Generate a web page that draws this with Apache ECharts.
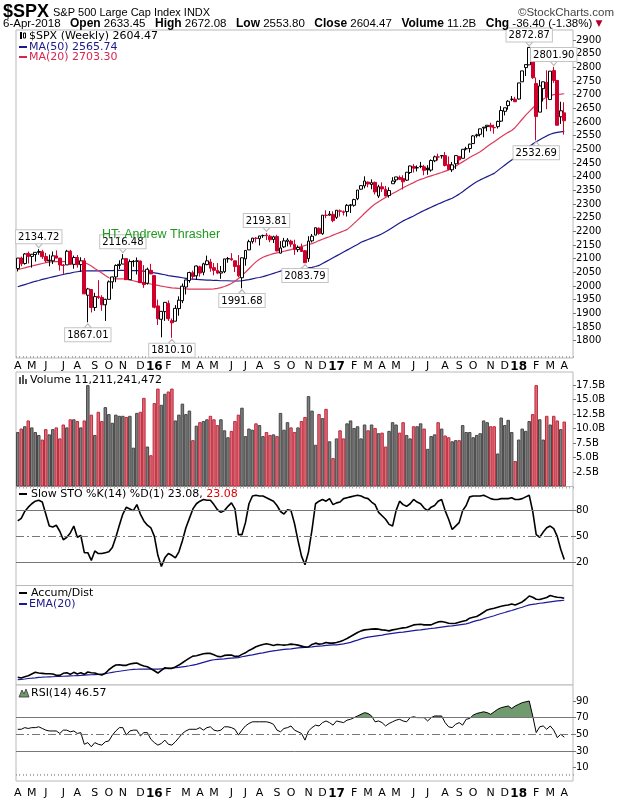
<!DOCTYPE html>
<html><head><meta charset="utf-8">
<script src="https://cdn.jsdelivr.net/npm/echarts@6/dist/echarts.min.js"></script>
<style>html,body{margin:0;padding:0;background:#fff}#c{width:620px;height:800px}</style>
</head><body><div id="c"></div>
<script>
const dates = ['2015-04-10','2015-04-17','2015-04-24','2015-05-01','2015-05-08','2015-05-15','2015-05-22','2015-05-29','2015-06-05','2015-06-12','2015-06-19','2015-06-26','2015-07-03','2015-07-10','2015-07-17','2015-07-24','2015-07-31','2015-08-07','2015-08-14','2015-08-21','2015-08-28','2015-09-04','2015-09-11','2015-09-18','2015-09-25','2015-10-02','2015-10-09','2015-10-16','2015-10-23','2015-10-30','2015-11-06','2015-11-13','2015-11-20','2015-11-27','2015-12-04','2015-12-11','2015-12-18','2015-12-25',
'2016-01-01','2016-01-08','2016-01-15','2016-01-22','2016-01-29','2016-02-05','2016-02-12','2016-02-19','2016-02-26','2016-03-04','2016-03-11','2016-03-18','2016-03-25','2016-04-01','2016-04-08','2016-04-15','2016-04-22','2016-04-29','2016-05-06','2016-05-13','2016-05-20','2016-05-27','2016-06-03','2016-06-10','2016-06-17','2016-06-24','2016-07-01','2016-07-08','2016-07-15','2016-07-22','2016-07-29','2016-08-05','2016-08-12','2016-08-19','2016-08-26','2016-09-02','2016-09-09','2016-09-16','2016-09-23','2016-09-30','2016-10-07','2016-10-14','2016-10-21','2016-10-28','2016-11-04','2016-11-11','2016-11-18','2016-11-25','2016-12-02','2016-12-09','2016-12-16','2016-12-23','2016-12-30',
'2017-01-06','2017-01-13','2017-01-20','2017-01-27','2017-02-03','2017-02-10','2017-02-17','2017-02-24','2017-03-03','2017-03-10','2017-03-17','2017-03-24','2017-03-31','2017-04-07','2017-04-14','2017-04-21','2017-04-28','2017-05-05','2017-05-12','2017-05-19','2017-05-26','2017-06-02','2017-06-09','2017-06-16','2017-06-23','2017-06-30','2017-07-07','2017-07-14','2017-07-21','2017-07-28','2017-08-04','2017-08-11','2017-08-18','2017-08-25','2017-09-01','2017-09-08','2017-09-15','2017-09-22','2017-09-29','2017-10-06','2017-10-13','2017-10-20','2017-10-27','2017-11-03','2017-11-10','2017-11-17','2017-11-24','2017-12-01','2017-12-08','2017-12-15','2017-12-22','2017-12-29',
'2018-01-05','2018-01-12','2018-01-19','2018-01-26','2018-02-02','2018-02-09','2018-02-16','2018-02-23','2018-03-02','2018-03-09','2018-03-16','2018-03-23','2018-03-30','2018-04-06'];
const padDates = ['2018-04-13','2018-04-20'];

const open = [2064,2102,2082,2119,2108,2115,2123,2125,2108,2092,2092,2110,2102,2075,2077,2127,2079,2104,2078,2092,1966,1987,1921,1961,1958,1931,1951,2015,2033,2075,2080,2100,2023,2089,2090,2091,2013,2010,2057,2038,1927,1878,1906,1936,1873,1871,1917,1946,1996,2020,2048,2037,2070,2050,2078,2088,2067,2057,2047,2052,2100,2100,2092,2075,2030,2099,2132,2162,2175,2173,2184,2186,2182,2170,2181,2120,2143,2163,2164,2152,2133,2142,2129,2100,2165,2186,2211,2191,2259,2259,2262,2251,2273,2269,2272,2294,2295,2319,2354,2366,2380,2371,2379,2329,2363,2354,2331,2374,2388,2397,2393,2387,2415,2437,2432,2437,2436,2431,2424,2458,2472,2477,2477,2444,2425,2447,2474,2467,2502,2503,2521,2550,2555,2578,2583,2588,2580,2583,2603,2639,2660,2683,2683,2684,2747,2799,2809,2867,2741,2636,2722,2745,2682,2788,2752,2619,2633.45];
const high = [2102,2107,2120,2126,2117,2123,2134.72,2132,2121,2115,2126,2130,2102,2080,2132,2132,2111,2113,2105,2102,1993,1987,1975,2021,1966,1953,2020,2034,2079,2094,2116.48,2100,2097,2095,2104,2093,2076,2067,2081,2038,1950,1908,1940,1947,1881,1930,1962,2009,2022,2052,2056,2075,2074,2085,2111,2099,2084,2084,2073,2099,2106,2120,2092,2113,2104,2131,2169,2176,2178,2183,2188,2193.81,2187,2184,2187,2164,2176,2175,2169,2169,2148,2155,2131,2182,2190,2214,2214,2259,2277,2274,2273,2277,2280,2276,2300,2300,2319,2351,2368,2401,2382,2390,2382,2370,2379,2366,2361,2398,2399,2404,2405,2416,2440,2446,2441,2454,2443,2442,2463,2477,2484,2478,2490,2474,2454,2477,2474,2500,2509,2520,2552,2557,2575,2582,2588,2597,2590,2605,2658,2652,2680,2695,2692,2743,2787,2810,2872.87,2870,2763,2754,2748,2789,2786,2801.90,2753,2674,2672.08];
const low = [2053,2072,2078,2082,2067,2089,2114,2099,2085,2072,2080,2101,2056,2044,2077,2079,2063,2067,2052,1970,1867.01,1903,1909,1952,1909,1872,1951,1990,2014,2062,2080,2022,2022,2070,2042,2012,1993,2005,2043,1918,1857,1812,1872,1872,1810.10,1871,1891,1937,1969,2012,2023,2022,2034,2039,2076,2052,2039,2043,2026,2047,2085,2092,2051,2032,1991.68,2074,2131,2155,2159,2148,2176,2168,2160,2157,2127,2119,2139,2145,2142,2114,2124,2127,2083.79,2088,2159,2186,2187,2187,2248,2257,2233,2245,2254,2258,2254,2267,2290,2314,2352,2357,2361,2354,2335,2322,2344,2328,2323,2374,2379,2389,2353,2384,2410,2415,2419,2431,2405,2407,2418,2453,2459,2466,2437,2425,2417,2428,2446,2467,2496,2488,2520,2543,2547,2544,2566,2566,2557,2576,2600,2624,2645,2676,2673,2682,2747,2768,2808,2758,2532.69,2636,2675,2647,2682,2743,2588,2593,2553.80];
const close = [2102,2081,2117,2108,2116,2123,2126,2107,2092,2094,2110,2102,2076.8,2076.6,2127,2079,2104,2078,2092,1971,1989,1921,1961,1958,1931,1951,2015,2033,2075,2079,2099,2023,2089,2090,2092,2012,2005,2061,2044,1922,1880,1907,1940,1880,1865,1918,1948,1999,2022,2049,2035,2073,2047,2081,2092,2065,2057,2047,2052,2099,2099.1,2096,2071,2037,2103,2130,2162,2175,2174,2183,2184.1,2183.9,2169,2180,2128,2139,2165,2168,2153,2133,2141,2126,2085,2164,2182,2213,2192,2259,2258,2263,2239,2277,2275,2272,2295,2297,2316,2351,2367,2384,2373,2378,2344,2363,2355,2329,2349,2384,2399,2390,2381,2416,2439,2431,2433,2438,2423,2425,2459,2472.5,2472.1,2476,2441,2426,2443,2477,2461,2500,2502,2519,2549,2553,2575,2581,2588,2582,2579,2602,2642,2652,2676,2683,2674,2743,2787,2810,2872.87,2762,2620,2732,2747,2691,2786,2752,2588,2641,2604.47];
const volume = [9.4,10.0,10.4,11.4,10.2,9.4,8.9,8.1,9.9,9.0,9.9,10.2,8.3,10.7,10.2,11.6,11.6,11.3,10.2,11.4,17.5,12.4,8.9,12.9,11.3,13.7,12.5,11.0,12.4,12.2,12.2,12.0,12.2,6.7,12.7,12.9,15.3,6.9,5.4,14.4,16.9,14.1,16.0,16.4,16.9,11.4,12.4,14.3,12.5,13.1,8.0,10.5,11.1,11.3,11.6,12.2,11.6,10.6,11.6,9.7,8.5,9.6,11.3,12.4,13.6,8.7,10.0,9.8,10.9,10.6,8.7,9.4,8.9,9.0,8.7,12.7,9.8,11.1,10.2,9.4,10.2,11.3,12.0,15.6,13.1,7.2,12.5,11.8,13.4,7.8,4.9,8.3,9.7,8.3,10.9,11.4,10.1,10.4,8.3,10.7,9.7,10.7,10.1,9.2,9.3,6.9,9.6,11.1,10.7,9.3,11.1,8.9,8.3,10.4,10.4,10.9,10.0,6.5,8.7,9.0,11.1,10.0,8.8,8.5,7.8,8.0,8.0,10.6,9.4,9.4,8.5,8.9,9.2,11.4,11.1,10.4,10.4,5.7,11.9,10.6,11.5,9.4,4.4,8.1,10.0,9.6,11.3,12.5,17.5,11.6,8.1,12.2,10.7,12.2,11.4,9.9,11.21];
const ma50 = [1997,2001,2005,2009,2013,2017,2020,2024,2027,2030,2033,2036,2039,2042,2045,2047,2050,2052,2054,2055,2055,2055,2055,2055,2055,2056,2056,2056,2057,2057,2057,2057,2056,2056,2056,2055,2054,2052,2050,2048,2046,2043,2041,2038,2036,2034,2032,2030,2028,2026,2025,2024,2023,2022,2021,2021,2020,2020,2019,2019,2019,2018,2018,2018,2019,2021,2023,2026,2029,2031,2034,2038,2042,2046,2050,2054,2058,2059,2060,2061,2062,2064,2066,2067,2068,2071,2075,2082,2089,2096,2103,2110,2117,2124,2131,2138,2145,2152,2160,2165,2170,2175,2180,2185,2191,2198,2206,2214,2222,2230,2238,2244,2250,2256,2263,2270,2276,2282,2288,2294,2300,2305,2311,2316,2321,2328,2336,2345,2355,2364,2373,2381,2388,2394,2400,2406,2412,2422,2432,2442,2452,2461,2470,2480,2490,2500,2510,2519,2528,2535,2542,2549,2555,2559,2562,2564,2565.74];
const ma20 = [2060,2063,2066,2070,2073,2076,2079,2082,2085,2087,2089,2089,2089,2089,2090,2090,2090,2090,2089,2086,2080,2073,2064,2056,2047,2038,2030,2027,2026,2026,2026,2025,2022,2019,2016,2013,2011,2009,2007,2005,2002,1999,1997,1995,1993,1992,1991,1990,1989,1988,1988,1988,1988,1988,1988,1988,1989,1991,1994,1998,2003,2009,2017,2027,2038,2050,2063,2076,2088,2098,2105,2110,2114,2118,2121,2124,2127,2130,2133,2137,2141,2144,2148,2152,2155,2160,2166,2171,2176,2180,2186,2191,2196,2201,2206,2217,2229,2241,2253,2266,2278,2290,2300,2308,2316,2324,2331,2338,2345,2352,2359,2366,2372,2378,2385,2390,2394,2399,2403,2407,2411,2415,2420,2424,2431,2438,2446,2454,2462,2470,2477,2484,2491,2500,2510,2519,2528,2537,2546,2554,2562,2569,2580,2595,2610,2625,2638,2651,2663,2674,2683,2691,2696,2700,2701,2702,2703.30];
const sto = [68,71,79,84,88,91,92,90,76,62,61,63,56,46,49,54,62,49,51,31,31,22,33,30,30,31,32,37,49,63,76,84,82,80,87,76,68,63,60,50,28,15,25,30,28,25,32,45,60,71,82,88,91,93,92,92,87,81,78,80,85,89,82,52,52,66,88,97,98,97,97,95,93,91,86,79,76,81,80,65,45,27,17,32,58,88,91,93,91,94,87,89,90,94,95,96,97,98,97,95,94,90,87,78,74,70,64,62,80,91,87,85,88,93,90,88,83,80,84,86,91,93,80,70,58,62,66,80,86,96,97,97,97,98,96,94,93,93,94,94,94,95,93,93,94,96,98,79,52,49,55,60,62,59,50,35,23.08];
const rsi = [56,56,58,57,58,58,59,57,55,54,54,54,51,55,55,53,54,51,52,38,40,35,40,38,37,41,42,49,54,58,58,49,54,55,55,48,52,52,44,40,37,39,43,38,37,41,46,51,54,56,56,56,58,55,58,59,55,54,55,59,59,58,56,49,55,60,63,65,65,65,65,65,64,62,55,53,57,58,60,55,53,51,43,54,58,61,60,64,66,64,61,66,65,64,67,68,70,72,74,76,75,72,65,66,64,60,63,65,67,68,66,65,70,71,70,70,70,66,70,72,72,72,64,59,58,62,64,61,68,69,73,75,76,77,76,74,77,80,82,83,84,81,84,86,88,89,90,72,52,59,60,56,60,55,46,50,46.57];
const accDist = [7.7,7,8.3,9.3,11,12.7,12,11.7,11.3,11.3,11,9.7,9.7,11.7,12.3,10.7,12.7,11,12.3,10.7,13,12.3,12,10.7,10,11.7,15.3,18,20,20.3,19.7,19.7,21,21.7,22,20.3,19,18.3,16.3,14.3,12,14.7,17.3,16.7,16.7,18,20,22.3,24.7,27,29,29.3,30.3,31.3,31.7,31.7,30.3,28.7,28.3,29.7,30,30,28.7,28.7,30.7,32.3,34.7,36.3,38.3,39.7,40.7,41.3,40.7,39.7,40.7,40.3,40,40.3,41,40.7,40,39,38,38.3,40.7,42,41,41.3,42.7,42,42,42.7,43.7,45,46.7,48.7,50.7,52.7,54.3,55.3,55.7,56,56.3,56,55.3,55,54.3,55.3,56,56.7,57.3,57.7,59,60.3,60.7,61,60.3,60.3,60.3,62,63.3,63.7,63,62,61.7,62,63,64,64.7,67,68,68.7,70.7,73,75.3,76.3,77,78,79,79.7,80.3,81.3,80.3,81.7,83.3,86,89.3,88,86,85.7,86.7,87.7,89.7,88.7,88,87.7,87];
const accDistEma = [5.3,5.7,6,6.5,6.8,7.2,7.7,7.8,8,8.2,8.3,8.5,8.7,8.8,9,9.2,9.3,9.5,9.7,10,10.2,10.3,10.5,10.7,11,11.3,12,12.7,13.3,13.8,14.3,14.8,15.3,15.7,15.8,16,16,16,16,16,16,16.2,16.3,16.7,16.8,17.3,17.7,18.2,18.7,19.3,20,20.7,21.7,22.7,23.7,24.7,25.3,25.7,26,26.3,26.7,27,27.3,27.5,28.3,29,29.7,30.3,31,31.7,32.3,33,33.7,34.3,34.7,35.2,35.7,36,36.3,36.8,37.2,37.5,37.8,38,38.3,38.7,39,39.3,39.7,40,40.2,40.3,40.8,41.3,42,42.8,44,45,46.2,47.2,48,48.5,49,49.5,50,50.7,51.2,51.7,52.2,52.7,53,53.5,54,54.5,55,55.3,55.8,56.2,56.7,57,57.5,58,58.5,59,59.3,59.8,60.3,60.8,61.3,62.3,63.5,64.5,65.3,66.5,67.5,68.5,69.5,70.7,71.7,72.7,73.8,74.7,75.8,77,78,79.2,80.3,80.8,81.3,82,82.3,82.8,83.3,83.8,84.3,84.7,85];

const priceTicks = [1800,1850,1900,1950,2000,2050,2100,2150,2200,2250,2300,2350,2400,2450,2500,2550,2600,2650,2700,2750,2800,2850,2900];
const volTicks = [2.5,5,7.5,10,12.5,15,17.5];
const stoTicks = [20,50,80];
const rsiTicks = [10,30,50,70,90];
const rsiOverbought = 70;
const monthLetters = ['J','F','M','A','M','J','J','A','S','O','N','D'];
const calloutHighIdx = [6,30,71,146,153];
const calloutLowIdx = [20,44,64,82,148];

const RED = '#d0002d', BLACK = '#000000';
const FONT = 'DejaVu Sans';
const cats = dates.concat(padDates);

const candleData = dates.map((d,i)=>{
  const up = i===0 || close[i] >= close[i-1];
  const col = up ? BLACK : RED;
  const fill = close[i] >= open[i] ? '#ffffff' : col;
  return {value:[open[i],close[i],low[i],high[i]], itemStyle:{color:fill,color0:fill,borderColor:col,borderColor0:col,borderWidth:1}};
});
const volData = volume.map((v,i)=>{
  const up = i===0 || close[i] >= close[i-1];
  return {value:v, itemStyle: up ? {color:'#7f7f7f',borderColor:'#474747'} : {color:'#d8707a',borderColor:'#c3283c'}};
});

function isLabel(v){ if(padDates.indexOf(v)>=0) return false; const d = +v.slice(8,10); return d>=5 && d<=11; }
function fmtLabel(v){ const m = +v.slice(5,7); return m===1 ? '{y|'+v.slice(2,4)+'}' : monthLetters[m-1]; }

const L = 16, W = 557;
const grids = [
  {left:L, top:30, width:W, height:328},
  {left:L, top:372, width:W, height:114.5},
  {left:L, top:486.5, width:W, height:99},
  {left:L, top:585.5, width:W, height:99.5},
  {left:L, top:685, width:W, height:98}
].map(g=>Object.assign({show:true, borderColor:'#b9b9b9', borderWidth:1, backgroundColor:'#fff'}, g));

function xAx(gi, extra){
  return Object.assign({type:'category', gridIndex:gi, data:cats, boundaryGap:true,
    axisLine:{show:false}, axisTick:{show:false}, axisLabel:{show:false}, splitLine:{show:false}}, extra||{});
}
const labelCfg = {show:true, interval:(i,v)=>isLabel(v), formatter:fmtLabel, fontSize:11, fontFamily:FONT, color:'#000',
  rich:{y:{fontWeight:'bold', fontSize:12, fontFamily:FONT, color:'#000'}}};
const tickCfg = {show:true, interval:0, inside:true, length:2, lineStyle:{color:'#aaaaaa'}};

function yAx(gi, min, max, ticks, fmt){
  return {type:'value', gridIndex:gi, position:'right', min:min, max:max, splitLine:{show:false}, axisLine:{show:false},
    axisTick:{show:!!ticks, customValues:ticks||[], length:3, lineStyle:{color:'#777'}},
    axisLabel:{show:!!ticks, customValues:ticks||[], fontSize:10, fontFamily:FONT, color:'#000', margin:3, formatter:fmt||(v=>String(v))}};
}

const hl = (y, dash)=>({yAxis:y, lineStyle:{color:'#777', width:1, type: dash ? [8,3,2,3] : 'solid'}});

function txt(x,y,text,font,fill,align,rich){
  const s = {text:text, x:x, y:y, font:font, fill:fill||'#000', align:align||'left', verticalAlign:'middle'};
  if(rich) s.rich = rich;
  return {type:'text', silent:true, z:100, style:s};
}
function seg(x1,y1,x2,y2,col,w){ return {type:'line', silent:true, z:100, shape:{x1,y1,x2,y2}, style:{stroke:col, lineWidth:w||2}}; }

const f11 = '11px "'+FONT+'"';
const graphics = [
  txt(3,12,'$SPX','bold 18px "Liberation Sans"','#000'),
  txt(53,13,'S&P 500 Large Cap Index INDX','11px "Liberation Sans"','#000'),
  txt(614,13,'\u00A9StockCharts.com','11.5px "Liberation Sans"','#444','right'),
  txt(3,24,'6-Apr-2018','11.5px "Liberation Sans"','#000'),
  txt(70,24,'{b|Open} 2633.45   {b|High} 2672.08   {b|Low} 2553.80   {b|Close} 2604.47   {b|Volume} 11.2B   {b|Chg} -36.40 (-1.38%) {r|\u25BC}','11.5px "Liberation Sans"','#000','left',
     {b:{font:'bold 12px "Liberation Sans"', fill:'#000'}, r:{font:'9px "DejaVu Sans"', fill:'#b0002a'}}),
  {type:'rect', silent:true, z:100, shape:{x:20,y:32,width:2,height:7}, style:{fill:'#000'}},
  {type:'rect', silent:true, z:100, shape:{x:23.5,y:33,width:2,height:5}, style:{fill:'#fff', stroke:'#000', lineWidth:1}},
  txt(29,36,'$SPX (Weekly) 2604.47',f11,'#000'),
  seg(19,47,27,47,'#1a1a8c'), txt(29,47,'MA(50) 2565.74',f11,'#1a1a8c'),
  seg(19,57,27,57,'#d6284f'), txt(29,57,'MA(20) 2703.30',f11,'#d6284f'),
  txt(102,235,'HT: Andrew Thrasher','12.5px "Liberation Sans"','#1f9a1f'),
  {type:'rect', silent:true, z:100, shape:{x:19,y:377,width:2,height:7}, style:{fill:'#555'}},
  {type:'rect', silent:true, z:100, shape:{x:22,y:375,width:2,height:9}, style:{fill:'#555'}},
  {type:'rect', silent:true, z:100, shape:{x:25,y:379,width:2,height:5}, style:{fill:'#555'}},
  txt(30,380,'Volume 11,211,241,472',f11,'#000'),
  seg(19,494,27,494,'#000'),
  txt(31,494,'Slow STO %K(14) %D(1) 23.08, {r|23.08}',f11,'#000','left',{r:{font:f11, fill:'#e00000'}}),
  seg(19,593,27,593,'#000'), txt(31,593,'Accum/Dist',f11,'#000'),
  seg(19,604,27,604,'#1a1a8c'), txt(29,604,'EMA(20)',f11,'#1a1a8c'),
  {type:'polygon', silent:true, z:100, shape:{points:[[19,697],[22,690],[24,694],[26,689],[29,697]]}, style:{fill:'#6f9b6f', stroke:'#333', lineWidth:0.8}},
  txt(31,693,'RSI(14) 46.57',f11,'#000')
];

const downTri = 'path://M0,0L8,0L4,5Z';
const markPts = calloutHighIdx.map(i=>({coord:[dates[i],high[i]], value:high[i], symbol:downTri, symbolOffset:[0,-3.5], label:{position:'top', distance:0}}))
  .concat(calloutLowIdx.map(i=>({coord:[dates[i],low[i]], value:low[i], symbol:'triangle', symbolOffset:[0,3.5], label:{position:'bottom', distance:0}})));

const option = {
  animation:false,
  backgroundColor:'#ffffff',
  grid: grids,
  xAxis: [
    xAx(0,{axisLabel:Object.assign({},labelCfg,{margin:3}), axisTick:tickCfg}),
    xAx(1,{position:'top', axisTick:tickCfg}),
    xAx(2), xAx(3),
    xAx(4,{axisLabel:Object.assign({},labelCfg,{margin:7}), axisTick:tickCfg})
  ],
  yAxis: [
    yAx(0,1736.3,2936.6,priceTicks),
    yAx(1,0,19.76,volTicks,v=>v.toFixed(1)+'B'),
    yAx(2,-7.2,108.1,stoTicks),
    yAx(3,0,99.8,null),
    yAx(4,-6.1,109.2,rsiTicks)
  ],
  visualMap: [{type:'piecewise', show:false, seriesIndex:7, dimension:1, min:-10, max:120,
    pieces:[{gt:rsiOverbought, lte:120, color:'#6f9b6f'},{gte:-10, lte:rsiOverbought, color:'rgba(255,255,255,0)'}]}],
  series: [
    {type:'candlestick', xAxisIndex:0, yAxisIndex:0, data:candleData, barWidth:'95%', barMaxWidth:10, barMinWidth:3, z:3,
      markPoint:{symbolSize:[7,4], silent:true, itemStyle:{color:'#fff', borderColor:'#b8b8b8', borderWidth:1}, data:markPts,
        label:{show:true, formatter:p=>Number(p.value).toFixed(2), backgroundColor:'#fff', borderColor:'#c4c4c4', borderWidth:1,
          padding:[2,2,1,2], fontSize:10, fontFamily:FONT, color:'#000'}}},
    {type:'line', xAxisIndex:0, yAxisIndex:0, data:ma50, symbol:'none', lineStyle:{color:'#1a1a8c', width:1.2}, z:2},
    {type:'line', xAxisIndex:0, yAxisIndex:0, data:ma20, symbol:'none', lineStyle:{color:'#dc3a5c', width:1.2}, z:2},
    {type:'bar', xAxisIndex:1, yAxisIndex:1, data:volData, barWidth:'100%', barMinWidth:3, itemStyle:{borderWidth:1}},
    {type:'line', xAxisIndex:2, yAxisIndex:2, data:sto, symbol:'none', lineStyle:{color:'#000', width:1.6}, z:3,
      markLine:{silent:true, symbol:['none','none'], label:{show:false}, data:[hl(80),hl(50,true),hl(20)]}},
    {type:'line', xAxisIndex:3, yAxisIndex:3, data:accDist, symbol:'none', lineStyle:{color:'#000', width:1.6}, z:3},
    {type:'line', xAxisIndex:3, yAxisIndex:3, data:accDistEma, symbol:'none', lineStyle:{color:'#1a1a9a', width:1.2}, z:2},
    {type:'line', xAxisIndex:4, yAxisIndex:4, data:rsi, symbol:'none', lineStyle:{width:0, opacity:0}, areaStyle:{origin:rsiOverbought, opacity:1}, z:1},
    {type:'line', xAxisIndex:4, yAxisIndex:4, data:rsi, symbol:'none', lineStyle:{color:'#000', width:1}, z:3,
      markLine:{silent:true, symbol:['none','none'], label:{show:false}, data:[hl(70),hl(50,true),hl(30)]}}
  ],
  graphic: graphics
};
const chart = echarts.init(document.getElementById('c'));
chart.setOption(option);
</script>
</body></html>
